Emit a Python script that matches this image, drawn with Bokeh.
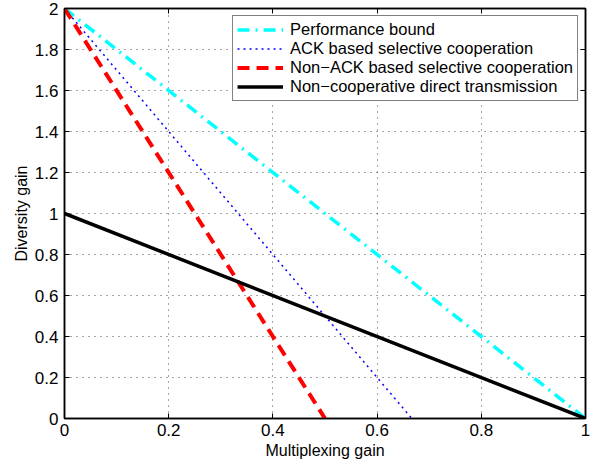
from bokeh.plotting import figure
from bokeh.models import LinearAxis, FixedTicker, Legend, LegendItem, Range1d
from bokeh.embed import file_html
from bokeh.resources import INLINE

# Data
bound_x = [0.0, 1.0]
bound_y = [2.0, 0.0]
ack_x = [0.0, 2.0 / 3.0]
ack_y = [2.0, 0.0]
nonack_x = [0.0, 0.5]
nonack_y = [2.0, 0.0]
direct_x = [0.0, 1.0]
direct_y = [1.0, 0.0]
labels = ["Performance bound",
          "ACK based selective cooperation",
          "Non\u2212ACK based selective cooperation",
          "Non\u2212cooperative direct transmission"]
x_ticks = [0, 0.2, 0.4, 0.6, 0.8, 1]
y_ticks = [0, 0.2, 0.4, 0.6, 0.8, 1, 1.2, 1.4, 1.6, 1.8, 2]

FONT = "Liberation Sans"

p = figure(width=601, height=466, output_backend="svg", toolbar_location=None,
           x_range=Range1d(0, 1), y_range=Range1d(0, 2),
           min_border_left=64, min_border_right=16, min_border_top=8, min_border_bottom=48)
p.outline_line_color = "black"
p.outline_line_width = 1.5
p.background_fill_color = "white"
p.border_fill_color = "white"

r1 = p.line(bound_x, bound_y, line_color="cyan", line_width=3.5, line_dash="12 6 2 6")
r2 = p.line(ack_x, ack_y, line_color="blue", line_width=1.5, line_dash="2 4")
r3 = p.line(nonack_x, nonack_y, line_color="red", line_width=4, line_dash="12 7")
r4 = p.line(direct_x, direct_y, line_color="black", line_width=3.5)

def style_axis(ax, show_labels=True):
    ax.major_tick_in = 5
    ax.major_tick_out = 0
    ax.minor_tick_in = 0
    ax.minor_tick_out = 0
    ax.axis_line_color = "black"
    ax.axis_line_width = 1.5
    ax.major_tick_line_width = 1
    ax.major_label_text_font = FONT
    ax.major_label_text_font_size = "17px"
    ax.major_label_text_color = "black"
    ax.axis_label_text_font = FONT
    ax.axis_label_text_font_size = "16px"
    ax.axis_label_text_font_style = "normal"
    ax.axis_label_text_color = "black"
    if not show_labels:
        ax.major_label_text_font_size = "0px"
        ax.major_label_text_alpha = 0

p.xaxis.ticker = FixedTicker(ticks=x_ticks)
p.yaxis.ticker = FixedTicker(ticks=y_ticks)
p.xaxis.major_label_overrides = {0: "0", 1: "1"}
p.yaxis.major_label_overrides = {0: "0", 1: "1", 2: "2"}
p.xaxis.axis_label = "Multiplexing gain"
p.yaxis.axis_label = "Diversity gain"
for ax in p.xaxis + p.yaxis:
    style_axis(ax)
p.xaxis.major_label_standoff = 5
p.xaxis.axis_label_standoff = 3
p.yaxis.major_label_standoff = 6
p.yaxis.axis_label_standoff = 2

ra = LinearAxis(ticker=FixedTicker(ticks=y_ticks))
style_axis(ra, show_labels=False)
p.add_layout(ra, "right")
ta = LinearAxis(ticker=FixedTicker(ticks=x_ticks))
style_axis(ta, show_labels=False)
p.add_layout(ta, "above")

p.xgrid.ticker = FixedTicker(ticks=x_ticks)
p.ygrid.ticker = FixedTicker(ticks=y_ticks)
for g in (p.xgrid, p.ygrid):
    g.grid_line_color = "black"
    g.grid_line_alpha = 0.7
    g.grid_line_width = 1
    g.grid_line_dash = "1 5"

legend = Legend(items=[LegendItem(label=labels[0], renderers=[r1]),
                       LegendItem(label=labels[1], renderers=[r2]),
                       LegendItem(label=labels[2], renderers=[r3]),
                       LegendItem(label=labels[3], renderers=[r4])],
                location="top_right")
legend.margin = 7
legend.padding = 4
legend.spacing = 0
legend.label_height = 19
legend.glyph_height = 19
legend.glyph_width = 46
legend.label_standoff = 7
legend.label_text_font = FONT
legend.label_text_font_size = "16.5px"
legend.label_text_color = "black"
legend.border_line_color = "black"
legend.border_line_width = 1.5
legend.background_fill_color = "white"
legend.background_fill_alpha = 1
p.add_layout(legend, "center")

open("out.html", "w").write(file_html(p, INLINE))
